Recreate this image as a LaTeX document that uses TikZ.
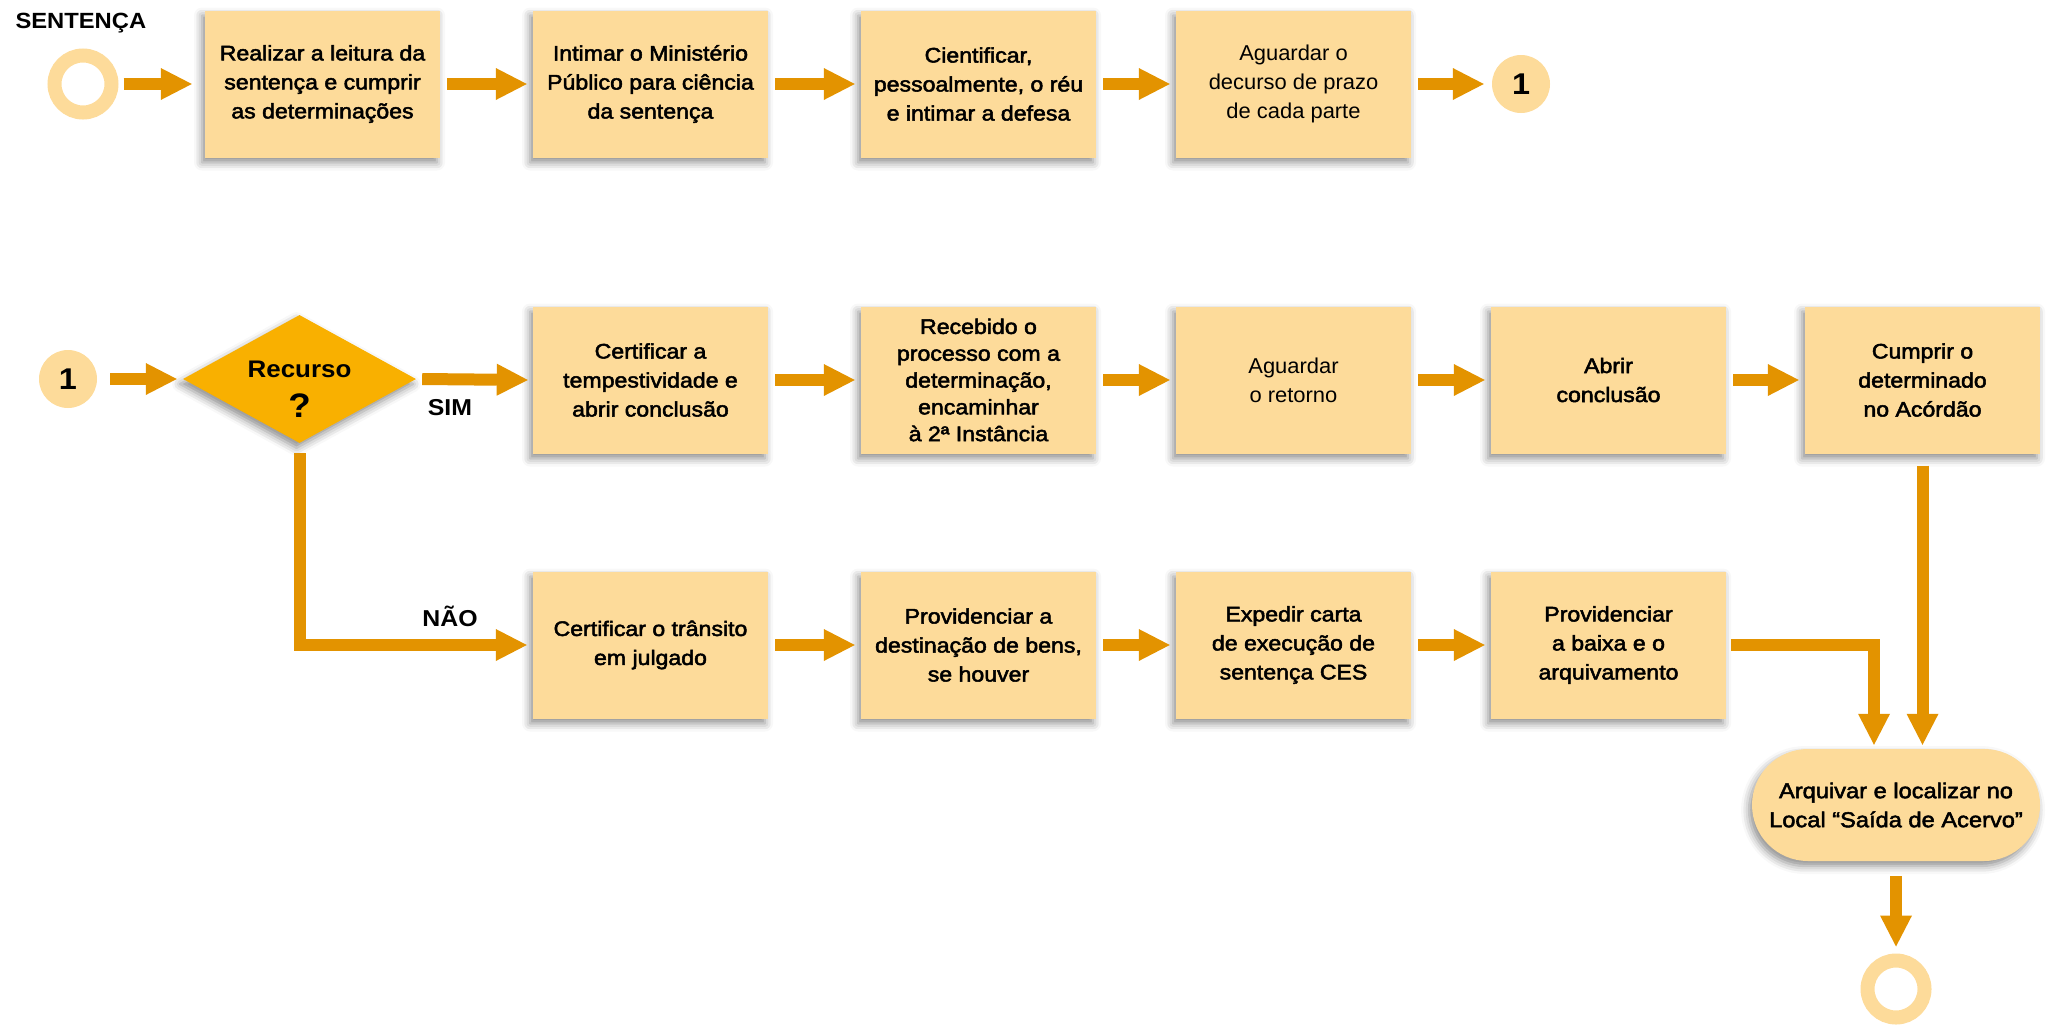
\documentclass[tikz,border=0pt]{standalone}
\usepackage{fontspec}
\setmainfont{Liberation Sans}
\newfontfamily\medfont{Liberation Sans}[FakeBold=2.4, FakeStretch=1.1]
\newfontfamily\regfont{Liberation Sans}[FakeStretch=1.02]
\newfontfamily\heavyfont{Liberation Sans Bold}[FakeStretch=1.08]
\usetikzlibrary{arrows.meta,shapes.geometric,shadows.blur}

\definecolor{boxfill}{HTML}{FDDB9A}
\definecolor{decfill}{HTML}{F9B000}
\definecolor{arrowc}{HTML}{E39300}

\begin{document}
\begin{tikzpicture}[x=1pt,y=-1pt,
  softshadow/.style={blur shadow={shadow xshift=-3pt, shadow yshift=-5pt,
      shadow blur radius=8pt, shadow opacity=45}},
  stepbox/.style={rectangle, fill=boxfill, minimum width=235pt,
      minimum height=147pt, inner sep=0pt, align=center,
      font=\medfont\fontsize{21}{29}\selectfont, softshadow},
  plainbox/.style={stepbox, font=\regfont\fontsize{21.5}{29}\selectfont},
  ring/.style={circle, draw=boxfill, line width=14pt, minimum size=57pt, inner sep=0pt},
  connector/.style={circle, fill=boxfill, minimum size=58pt, inner sep=0pt,
      font=\heavyfont\fontsize{30}{30}\selectfont},
  decision/.style={diamond, fill=decfill, minimum width=233pt, minimum height=128pt,
      inner sep=0pt, softshadow},
  terminal/.style={rectangle, rounded corners=56pt, fill=boxfill, minimum width=288pt,
      minimum height=112pt, inner sep=0pt, align=center,
      font=\medfont\fontsize{21.5}{29}\selectfont, softshadow},
  boldlabel/.style={anchor=base, font=\heavyfont\fontsize{23}{23}\selectfont},
  arr/.style={draw=arrowc, line width=12pt,
      -{Triangle[length=31pt, width=32pt, line width=0pt]}}
]
\useasboundingbox (0,0) rectangle (2049,1026);

% ---- first line: from the sentence to connector 1
\node[anchor=base west, font=\heavyfont\fontsize{22}{22}\selectfont] (title) at (12,28) {SENTENÇA};
\node[ring] (start) at (83,84) {};
\node[stepbox] (b11) at (322.5,84) {Realizar a leitura da\\sentença e cumprir\\as determinações};
\node[stepbox] (b12) at (650.5,84) {Intimar o Ministério\\Público para ciência\\da sentença};
\node[stepbox] (b13) at (978.5,84) {Cientificar,\\pessoalmente, o réu\\e intimar a defesa};
\node[plainbox] (b14) at (1293.5,84) {Aguardar o\\decurso de prazo\\de cada parte};
\node[connector] (c1a) at (1521,84) {1};

\draw[arr] ([xshift=5pt]start.east) -- ([xshift=-13pt]b11.west);
\draw[arr] ([xshift=7pt]b11.east) -- ([xshift=-6pt]b12.west);
\draw[arr] ([xshift=7pt]b12.east) -- ([xshift=-6pt]b13.west);
\draw[arr] ([xshift=7pt]b13.east) -- ([xshift=-6pt]b14.west);
\draw[arr] ([xshift=7pt]b14.east) -- ([xshift=-8pt]c1a.west);

% ---- decision on the appeal
\node[connector] (c1b) at (68,379) {1};
\node[decision] (dec) at (299.5,379) {};
\node[anchor=base, font=\heavyfont\fontsize{24}{24}\selectfont] (decq) at (299.5,377) {Recurso};
\node[anchor=base, font=\heavyfont\fontsize{34}{34}\selectfont] (decm) at (299.5,417) {?};

% ---- "SIM" branch
\node[stepbox] (b21) at (650.5,380) {Certificar a\\tempestividade e\\abrir conclusão};
\node[stepbox, font=\medfont\fontsize{21}{26.8}\selectfont] (b22) at (978.5,380)
  {Recebido o\\processo com a\\determinação,\\encaminhar\\à 2ª Instância};
\node[plainbox] (b23) at (1293.5,380) {Aguardar\\o retorno};
\node[stepbox] (b24) at (1608.5,380) {Abrir\\conclusão};
\node[stepbox] (b25) at (1922.5,380) {Cumprir o\\determinado\\no Acórdão};

\draw[arr] ([xshift=13pt]c1b.east) -- ([xshift=-6pt]dec.west);
\draw[arr] ([xshift=6pt]dec.east) -- ([xshift=-5pt]b21.west);
\node[boldlabel] (sim) at (450,415) {SIM};
\draw[arr] ([xshift=7pt]b21.east) -- ([xshift=-6pt]b22.west);
\draw[arr] ([xshift=7pt]b22.east) -- ([xshift=-6pt]b23.west);
\draw[arr] ([xshift=7pt]b23.east) -- ([xshift=-6pt]b24.west);
\draw[arr] ([xshift=7pt]b24.east) -- ([xshift=-6pt]b25.west);

% ---- "NÃO" branch
\node[stepbox] (b31) at (650.5,645) {Certificar o trânsito\\em julgado};
\node[stepbox] (b32) at (978.5,645) {Providenciar a\\destinação de bens,\\se houver};
\node[stepbox] (b33) at (1293.5,645) {Expedir carta\\de execução de\\sentença CES};
\node[stepbox] (b34) at (1608.5,645) {Providenciar\\a baixa e o\\arquivamento};

\draw[arr] ([yshift=-10pt]dec.south) |- ([xshift=-6pt]b31.west);
\node[boldlabel] (nao) at (450,626) {NÃO};
\draw[arr] ([xshift=7pt]b31.east) -- ([xshift=-6pt]b32.west);
\draw[arr] ([xshift=7pt]b32.east) -- ([xshift=-6pt]b33.west);
\draw[arr] ([xshift=7pt]b33.east) -- ([xshift=-6pt]b34.west);

% ---- archiving and end
\node[terminal] (cap) at (1896,805) {Arquivar e localizar no\\Local “Saída de Acervo”};
\node[ring] (finish) at (1896,989) {};

\draw[arr] ([xshift=5pt]b34.east) -| ([xshift=-22pt,yshift=4pt]cap.north);
\draw[arr] ([yshift=-12pt]b25.south) -- ([yshift=4pt]b25.south |- cap.north);
\draw[arr] ([yshift=-15pt]cap.south) -- ([yshift=7pt]finish.north);
\end{tikzpicture}
\end{document}
